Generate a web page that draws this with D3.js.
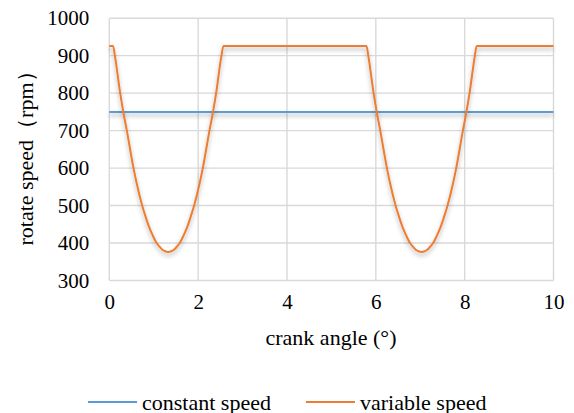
<!doctype html>
<html lang="en">
<head>
<meta charset="utf-8">
<title>rotate speed vs crank angle</title>
<script src="https://cdn.jsdelivr.net/npm/d3@7"></script>
<style>
  body { margin: 0; background: #fff; }
  text { font-family: "Liberation Serif", "Times New Roman", serif; fill: #000; }
</style>
</head>
<body>
<script>
// values
var crankAngle = [0, 0.085, 0.125, 0.245, 0.315, 0.395, 0.545, 0.615, 0.74, 0.815, 0.895, 0.975, 1.065, 1.125, 1.195, 1.255, 1.325,
                  1.395, 1.455, 1.525, 1.585, 1.675, 1.755, 1.835, 1.91, 2.035, 2.105, 2.255, 2.335, 2.405, 2.525, 2.57,
                  5.79, 5.83, 5.95, 6.02, 6.10, 6.25, 6.32, 6.445, 6.52, 6.60, 6.68, 6.77, 6.83, 6.90, 6.96, 7.03,
                  7.10, 7.16, 7.23, 7.29, 7.38, 7.46, 7.54, 7.615, 7.74, 7.81, 7.96, 8.04, 8.11, 8.23, 8.27, 10];
var variableSpeed = [926, 926, 900, 800, 750, 700, 600, 560, 500, 471, 443, 421, 400, 391, 382, 378, 376,
                     378, 382, 391, 400, 421, 443, 471, 500, 560, 600, 700, 750, 800, 900, 926,
                     926, 900, 800, 750, 700, 600, 560, 500, 471, 443, 421, 400, 391, 382, 378, 376,
                     378, 382, 391, 400, 421, 443, 471, 500, 560, 600, 700, 750, 800, 900, 926, 926];
var constAngle = [0, 10];
var constantSpeed = [750, 750];
var xTicks = [0, 2, 4, 6, 8, 10];
var yTicks = [300, 400, 500, 600, 700, 800, 900, 1000];
var seriesNames = ["constant speed", "variable speed"];
var seriesColors = ["#5b9bd5", "#ed7d31"];

var W = 574, H = 413;
var plot = {left: 109.3, right: 553.5, top: 18.2, bottom: 280.5};

var svg = d3.select("body").append("svg")
    .attr("width", W)
    .attr("height", H);

// soft drop shadow under the series lines
var shadow = svg.append("defs").append("filter")
    .attr("id", "shadow")
    .attr("filterUnits", "userSpaceOnUse")
    .attr("x", 0).attr("y", 0)
    .attr("width", W).attr("height", H);
shadow.append("feDropShadow")
    .attr("dx", 0).attr("dy", 3)
    .attr("stdDeviation", 2)
    .attr("flood-color", "#000")
    .attr("flood-opacity", 0.3);

var xScale = d3.scaleLinear().domain([0, 10]).range([plot.left, plot.right]);
var yScale = d3.scaleLinear().domain([300, 1000]).range([plot.bottom, plot.top]);

// gridlines
var grid = svg.append("g").attr("class", "grid");
grid.selectAll("line.h")
    .data(yTicks)
    .enter().append("line")
    .attr("class", "h")
    .attr("x1", plot.left).attr("x2", plot.right)
    .attr("y1", d => yScale(d)).attr("y2", d => yScale(d))
    .attr("stroke", "#d9d9d9")
    .attr("stroke-width", 1.4);
grid.selectAll("line.v")
    .data(xTicks)
    .enter().append("line")
    .attr("class", "v")
    .attr("x1", d => xScale(d)).attr("x2", d => xScale(d))
    .attr("y1", plot.top).attr("y2", plot.bottom)
    .attr("stroke", "#d9d9d9")
    .attr("stroke-width", 1.4);

// axes (labels only)
var xAxis = d3.axisBottom(xScale)
    .tickValues(xTicks)
    .tickFormat(d3.format("d"))
    .tickSize(0)
    .tickPadding(14);
svg.append("g")
    .attr("transform", "translate(0," + plot.bottom + ")")
    .call(xAxis)
    .attr("font-family", "Liberation Serif")
    .attr("font-size", 21)
    .call(g => g.select(".domain").remove());

var yAxis = d3.axisLeft(yScale)
    .tickValues(yTicks)
    .tickFormat(d3.format("d"))
    .tickSize(0)
    .tickPadding(20);
svg.append("g")
    .attr("transform", "translate(" + plot.left + ",0)")
    .call(yAxis)
    .attr("font-family", "Liberation Serif")
    .attr("font-size", 21)
    .call(g => g.select(".domain").remove());

// lines
var constData = constAngle.map((a, i) => ({angle: a, speed: constantSpeed[i]}));
var varData = crankAngle.map((a, i) => ({angle: a, speed: variableSpeed[i]}));

var line = d3.line()
    .x(d => xScale(d.angle))
    .y(d => yScale(d.speed))
    .curve(d3.curveMonotoneX);

svg.append("path")
    .datum(constData)
    .attr("d", line)
    .attr("fill", "none")
    .attr("stroke", seriesColors[0])
    .attr("stroke-width", 2)
    .attr("filter", "url(#shadow)");

svg.append("path")
    .datum(varData)
    .attr("d", line)
    .attr("fill", "none")
    .attr("stroke", seriesColors[1])
    .attr("stroke-width", 2)
    .attr("stroke-linejoin", "round")
    .attr("filter", "url(#shadow)");

// axis titles
svg.append("text")
    .attr("x", 331)
    .attr("y", 345)
    .attr("text-anchor", "middle")
    .style("font-size", "22px")
    .text("crank angle (°)");

svg.append("text")
    .attr("transform", "translate(33,153) rotate(-90)")
    .attr("text-anchor", "middle")
    .style("font-size", "22px")
    .text("rotate speed（rpm）");

// legend
var legendX = [88, 306];
var legend = svg.selectAll("g.legend")
    .data(seriesNames)
    .enter().append("g")
    .attr("class", "legend")
    .attr("transform", (d, i) => "translate(" + legendX[i] + ",402)");
legend.append("line")
    .attr("x1", 0).attr("x2", 49)
    .attr("y1", 0).attr("y2", 0)
    .attr("stroke", (d, i) => seriesColors[i])
    .attr("stroke-width", 2);
legend.append("text")
    .attr("x", 54)
    .attr("y", 7.5)
    .style("font-size", "22px")
    .text(d => d);
</script>
</body>
</html>
